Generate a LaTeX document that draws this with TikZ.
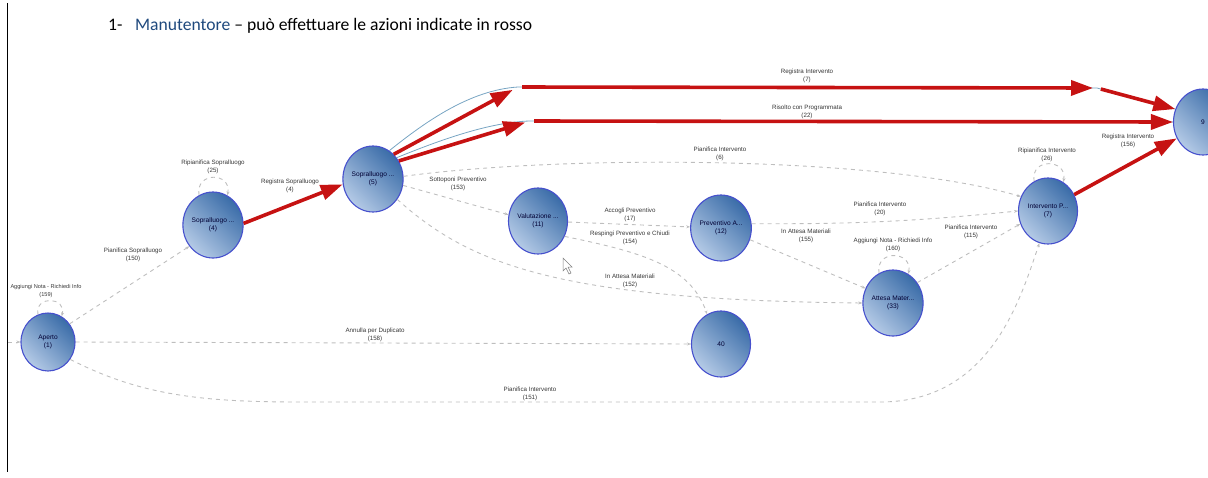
\documentclass[tikz,border=0pt]{standalone}
\usepackage{fontspec}
\setmainfont{Liberation Sans}
\newfontfamily\titlefont{Carlito}
\usetikzlibrary{arrows.meta,shapes.geometric}

\definecolor{c_title}{RGB}{31,73,125}
\definecolor{c_red}{RGB}{198,18,18}
\definecolor{c_edge}{RGB}{190,190,190}
\definecolor{c_border}{RGB}{70,80,205}
\definecolor{c_dark}{RGB}{58,108,168}
\definecolor{c_light}{RGB}{180,202,230}
\definecolor{c_thin}{RGB}{120,165,195}
\definecolor{c_text}{RGB}{55,55,55}

\tikzset{
  statenode/.style={ellipse, draw=c_border, line width=1.1pt, minimum width=59pt,
    minimum height=66pt, inner sep=0pt, top color=c_dark, bottom color=c_light,
    shading angle=-45, align=center, font=\fontsize{6.6}{8}\selectfont, text=black!80!blue},
  dashedge/.style={c_edge, line width=0.9pt, dash pattern=on 4pt off 4pt,
    -{Stealth[length=4pt,width=3pt]}},
  redarrow/.style={c_red, line width=3.6pt, -{Triangle[length=22pt,width=15pt]}},
  thinline/.style={c_thin, line width=0.8pt},
  lbl/.style={align=center, font=\fontsize{6.2}{8.5}\selectfont, text=c_text, inner sep=0pt},
  titletext/.style={anchor=base west, inner sep=0pt, font=\titlefont\fontsize{17.6}{20}\selectfont},
}

\begin{document}
\begin{tikzpicture}[x=1pt, y=-1pt]

\useasboundingbox (0,0) rectangle (1208,477);

% Page edge and title
\draw[line width=1pt] (7,3) -- (7,472);
\node[titletext] (num) at (108,30) {1-};
\node[titletext] (title) at (135,30)
  {\textcolor{c_title}{Manutentore} – può effettuare le azioni indicate in rosso};

% States
\node[statenode, minimum width=54pt, minimum height=58pt] (ap) at (48,342) {Aperto\\(1)};
\node[statenode] (sp4) at (213,225) {Sopralluogo ...\\(4)};
\node[statenode] (sp5) at (373,179) {Sopralluogo ...\\(5)};
\node[statenode] (val) at (538,221) {Valutazione ...\\(11)};
\node[statenode] (pra) at (721,228) {Preventivo A...\\(12)};
\node[statenode] (n40) at (721,344) {40};
\node[statenode] (att) at (893,303) {Attesa Mater...\\(33)};
\node[statenode] (inp) at (1048,211) {Intervento P...\\(7)};
\node[statenode] (n9) at (1203,122) {9};

% Bend points of the long edges
\coordinate (init) at (8,342);
\coordinate (b7a) at (518,87);
\coordinate (b7b) at (1097,88);
\coordinate (b22) at (530,121);

% Grey transitions (y axis points down, so upward is a negative angle)
\draw[dashedge] (init) -- (ap.west);
\draw[dashedge] (ap.110) .. controls +(-100:20) and +(-75:20) .. (ap.62);
\draw[dashedge] (ap.40) -- (sp4.222);
\draw[dashedge] (sp4.115) .. controls +(-100:24) and +(-80:24) .. (sp4.64);
\draw[dashedge] (sp5.-12) -- (val.168);
\draw[dashedge] (sp5.5) .. controls (560,155) and (880,155) .. (inp.152);
\draw[dashedge] (sp5.-40) .. controls (470,265) and (560,300) .. (att.180);
\draw[dashedge] (val.-2) -- (pra.178);
\draw[dashedge] (val.-30) .. controls (640,252) and (690,265) .. (n40.115);
\draw[dashedge] (ap.east) -- (n40.west);
\draw[dashedge] (ap.-38) .. controls (140,395) and (200,402) .. (300,402) -- (880,402)
  .. controls (990,402) and (1020,300) .. (inp.-105);
\draw[dashedge] (pra.8) to[bend right=3] (inp.180);
\draw[dashedge] (pra.-22) -- (att.152);
\draw[dashedge] (att.115) .. controls +(-100:24) and +(-80:24) .. (att.62);
\draw[dashedge] (att.40) -- (inp.205);
\draw[dashedge] (inp.115) .. controls +(-100:24) and +(-80:24) .. (inp.62);

% Thin original edges under the red ones
\draw[thinline] (sp5.60) .. controls (425,122) and (470,90) .. (b7a) -- (b7b) -- (n9.155);
\draw[thinline] (sp5.42) .. controls (440,140) and (490,122) .. (b22) -- (n9.180);

% Red transitions
\draw[redarrow] (sp4.3) -- (sp5.190);
\draw[redarrow, shorten >=6pt] (sp5.50) -- (b7a);
\draw[redarrow, shorten <=4pt, shorten >=4pt] (b7a) -- (b7b);
\draw[redarrow, shorten <=4pt] (b7b) -- (n9.155);
\draw[redarrow, shorten >=5pt] (sp5.35) -- (b22);
\draw[redarrow, shorten <=4pt] (b22) -- (n9.180);
\draw[redarrow] (inp.32) -- (n9.212);

% Edge labels
\node[lbl, font=\fontsize{5.6}{8.5}\selectfont] (l159) at (46,291) {Aggiungi Nota - Richiedi Info\\(159)};
\node[lbl] (l150) at (133,255) {Pianifica Sopralluogo\\(150)};
\node[lbl] (l25) at (213,167) {Ripianifica Sopralluogo\\(25)};
\node[lbl] (l4) at (290,186) {Registra Sopralluogo\\(4)};
\node[lbl] (l7) at (807,76) {Registra Intervento\\(7)};
\node[lbl] (l22) at (807,112) {Risolto con Programmata\\(22)};
\node[lbl] (l6) at (720,154) {Pianifica Intervento\\(6)};
\node[lbl] (l153) at (458,184) {Sottoponi Preventivo\\(153)};
\node[lbl] (l17) at (630,215) {Accogli Preventivo\\(17)};
\node[lbl] (l154) at (630,238) {Respingi Preventivo e Chiudi\\(154)};
\node[lbl] (l152) at (630,281) {In Attesa Materiali\\(152)};
\node[lbl] (l158) at (375,335) {Annulla per Duplicato\\(158)};
\node[lbl] (l151) at (530,394) {Pianifica Intervento\\(151)};
\node[lbl] (l20) at (880,209) {Pianifica Intervento\\(20)};
\node[lbl] (l155) at (806,236) {In Attesa Materiali\\(155)};
\node[lbl] (l160) at (893,245) {Aggiungi Nota - Richiedi Info\\(160)};
\node[lbl] (l115) at (971,232) {Pianifica Intervento\\(115)};
\node[lbl] (l26) at (1047,155) {Ripianifica Intervento\\(26)};
\node[lbl] (l156) at (1128,141) {Registra Intervento\\(156)};

% Mouse pointer
\draw[fill=white, draw=gray, line width=0.5pt] (563,258) -- (563,271) -- (566,268) -- (569,274)
  -- (571,273) -- (568,267) -- (572,267) -- cycle;

\end{tikzpicture}
\end{document}
